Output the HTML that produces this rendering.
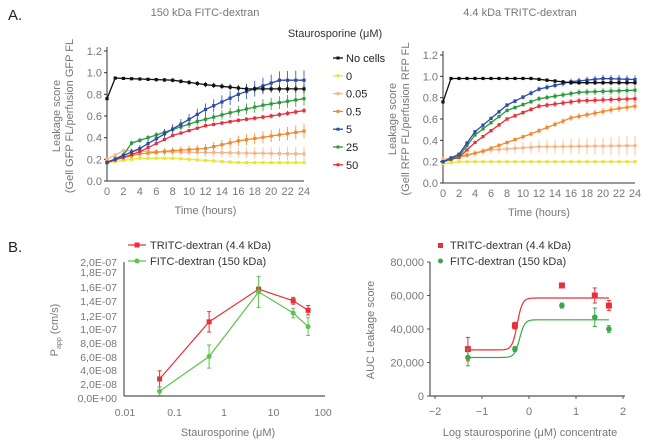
<!DOCTYPE html>
<html><head><meta charset="utf-8"><style>
body{margin:0;background:#fff;width:650px;height:442px;overflow:hidden}
svg{font-family:"Liberation Sans",sans-serif}
</style></head><body>
<svg id="s" width="650" height="442" xmlns="http://www.w3.org/2000/svg">
<text x="8" y="20" font-size="15" fill="#222">A.</text>
<text x="8" y="252" font-size="15" fill="#222">B.</text>
<text x="205" y="16" font-size="11" fill="#777" text-anchor="middle">150 kDa FITC-dextran</text>
<text x="520" y="16" font-size="11" fill="#777" text-anchor="middle">4.4 kDa TRITC-dextran</text>
<text x="335" y="37" font-size="11" fill="#333" text-anchor="middle">Staurosporine (μM)</text>
<g id="g"></g>
</svg>
<script>
const g=document.getElementById('g');let h='';
const C={k:'#111',y:'#e6e63a',lo:'#f2b88a',o:'#f08a2c',b:'#2c4aa8',gr:'#2a9a3e',r:'#e8303a'};
function interp(k,t){for(let i=0;i<k.length-1;i++){if(t>=k[i][0]&&t<=k[i+1][0]){const f=(t-k[i][0])/(k[i+1][0]-k[i][0]);return k[i][1]+f*(k[i+1][1]-k[i][1]);}}return k[k.length-1][1];}
function panelA(x0,x1,y0,y1,series,ylab,ylab2,lx){
 const X=t=>x0+(x1-x0)*t/24,Y=v=>y0-(y0-y1)*v/1.2;
 h+=`<line x1="${x0}" y1="${y1-4}" x2="${x0}" y2="${y0}" stroke="#333"/><line x1="${x0}" y1="${y0}" x2="${x1}" y2="${y0}" stroke="#333"/>`;
 for(let i=0;i<=6;i++){const v=i*0.2,y=Y(v);h+=`<line x1="${x0-3}" y1="${y}" x2="${x0}" y2="${y}" stroke="#333"/><text x="${x0-5}" y="${y+4}" font-size="11" fill="#777" text-anchor="end">${v.toFixed(1)}</text>`;}
 for(let t=0;t<=24;t+=2){h+=`<text x="${X(t)}" y="${y0+14}" font-size="11" fill="#777" text-anchor="middle">${t}</text>`;}
 h+=`<text x="${(x0+x1)/2}" y="${y0+33}" font-size="11" fill="#777" text-anchor="middle">Time (hours)</text>`;
 h+=`<text transform="translate(${lx},${(y0+y1)/2}) rotate(-90)" font-size="11" fill="#777" text-anchor="middle"><tspan x="0" y="0">${ylab}</tspan><tspan x="0" y="13">${ylab2}</tspan></text>`;
 for(const s of series){let p='';for(let t=0;t<=24;t++){const v=interp(s.k,t);p+=(t?'L':'M')+X(t).toFixed(1)+','+Y(v).toFixed(1);
   const e=s.e*(t/24+0.3);const yy=Y(v);h+=`<line x1="${X(t)}" y1="${yy-e*108}" x2="${X(t)}" y2="${yy+e*108}" stroke="${s.c}" stroke-width="0.8"/><rect x="${X(t)-1.6}" y="${yy-1.6}" width="3.2" height="3.2" fill="${s.c}"/>`;}
  h+=`<path d="${p}" fill="none" stroke="${s.c}" stroke-width="1.3"/>`;}
}
panelA(107,304,181,51,[
 {c:C.y,e:0.01,k:[[0,0.17],[4,0.21],[8,0.21],[16,0.17],[24,0.17]]},
 {c:C.lo,e:0.05,k:[[0,0.2],[2,0.28],[6,0.27],[24,0.25]]},
 {c:C.o,e:0.05,k:[[0,0.18],[4,0.25],[8,0.28],[12,0.3],[16,0.37],[24,0.46]]},
 {c:C.r,e:0.02,k:[[0,0.17],[4,0.27],[8,0.42],[12,0.51],[16,0.56],[20,0.6],[24,0.65]]},
 {c:C.gr,e:0.05,k:[[0,0.17],[2,0.24],[3,0.35],[7,0.45],[11,0.55],[15,0.63],[19,0.7],[24,0.76]]},
 {c:C.b,e:0.07,k:[[0,0.17],[4,0.3],[8,0.48],[12,0.66],[16,0.8],[21,0.93],[24,0.93]]},
 {c:C.k,e:0.03,k:[[0,0.76],[1,0.95],[8,0.93],[12,0.89],[17,0.85],[24,0.85]]}
],'Leakage score','(Gell GFP FL/perfusion GFP FL',60);
panelA(443,635,183,55,[
 {c:C.y,e:0.005,k:[[0,0.18],[2,0.2],[24,0.2]]},
 {c:C.lo,e:0.07,k:[[0,0.22],[6,0.31],[12,0.34],[24,0.35]]},
 {c:C.o,e:0.03,k:[[0,0.2],[5,0.3],[11,0.46],[16,0.61],[22,0.7],[24,0.72]]},
 {c:C.r,e:0.03,k:[[0,0.2],[2,0.24],[4,0.38],[8,0.6],[12,0.72],[17,0.77],[24,0.79]]},
 {c:C.gr,e:0.03,k:[[0,0.2],[2,0.25],[4,0.45],[8,0.68],[12,0.79],[17,0.85],[24,0.87]]},
 {c:C.b,e:0.03,k:[[0,0.2],[2,0.27],[4,0.48],[8,0.73],[12,0.88],[16,0.95],[20,0.98],[24,0.97]]},
 {c:C.k,e:0.02,k:[[0,0.76],[1,0.98],[11,0.98],[16,0.94],[24,0.94]]}
],'Leakage score','(Gell RFP FL/perfusion RFP FL',396);
// legend
const L=[['No cells',C.k],['0',C.y],['0.05',C.lo],['0.5',C.o],['5',C.b],['25',C.gr],['50',C.r]];
L.forEach((l,i)=>{const y=58+i*17.8;h+=`<line x1="333" y1="${y}" x2="343" y2="${y}" stroke="${l[1]}" stroke-width="1.3"/><rect x="336.5" y="${y-1.5}" width="3" height="3" fill="${l[1]}"/><text x="346" y="${y+4}" font-size="11" fill="#222">${l[0]}</text>`;});
// B left
{const X=c=>125+49.5*(Math.log10(c)+2);const Y=v=>398-v/2e-8*13.6;
h+=`<line x1="124" y1="262" x2="124" y2="396" stroke="#555" stroke-width="1.2"/><line x1="124" y1="396" x2="325" y2="396" stroke="#555" stroke-width="1.2"/>`;
const yl=[['0,0E+00',398],['2,0E-08',384],['4,0E-08',370],['6,0E-08',357],['8,0E-08',343],['1,0E-07',329],['1,2E-07',316],['1,4E-07',301],['1,6E-07',287],['1,8E-07',272],['2,0E-07',262]];
yl.forEach(a=>h+=`<text x="117" y="${a[1]+4}" font-size="10.5" fill="#777" text-anchor="end">${a[0]}</text>`);
[['0.01',0.01],['0.1',0.1],['1',1],['10',10],['100',100]].forEach(a=>h+=`<text x="${X(a[1])}" y="416" font-size="10.5" fill="#777" text-anchor="middle">${a[0]}</text>`);
h+=`<text x="228" y="436" font-size="11" fill="#777" text-anchor="middle">Staurosporine (μM)</text>`;
h+=`<text transform="translate(58,330) rotate(-90)" font-size="11" fill="#777" text-anchor="middle">P<tspan font-size="7" dy="3">app</tspan><tspan dy="-3"> (cm/s)</tspan></text>`;
const cs=[0.05,0.5,5,25,50];
const sets=[[C.r,[2.8e-8,1.12e-7,1.6e-7,1.43e-7,1.29e-7],[1.2e-8,1.5e-8,0.3e-8,0.5e-8,0.7e-8]],[ '#5cc44a',[1e-8,6.1e-8,1.56e-7,1.25e-7,1.05e-7],[0.6e-8,1.7e-8,2.3e-8,0.7e-8,1.3e-8]]];
sets.forEach(s=>{let p='';cs.forEach((c,i)=>{const x=X(c),y=Y(s[1][i]),e=s[2][i]/2e-8*13.6;p+=(i?'L':'M')+x+','+y;h+=`<line x1="${x}" y1="${y-e}" x2="${x}" y2="${y+e}" stroke="${s[0]}"/><line x1="${x-2}" y1="${y-e}" x2="${x+2}" y2="${y-e}" stroke="${s[0]}"/><line x1="${x-2}" y1="${y+e}" x2="${x+2}" y2="${y+e}" stroke="${s[0]}"/>`;
 h+= s[0]==C.r?`<rect x="${x-2.5}" y="${y-2.5}" width="5" height="5" fill="${s[0]}"/>`:`<circle cx="${x}" cy="${y}" r="2.5" fill="${s[0]}"/>`;});
 h+=`<path d="${p}" fill="none" stroke="${s[0]}" stroke-width="1.2"/>`;});
h+=`<line x1="128" y1="245" x2="146" y2="245" stroke="${C.r}" stroke-width="1.2"/><rect x="134.5" y="242.5" width="5" height="5" fill="${C.r}"/><text x="150" y="249" font-size="11" fill="#333">TRITC-dextran (4.4 kDa)</text>`;
h+=`<line x1="128" y1="261" x2="146" y2="261" stroke="#5cc44a" stroke-width="1.2"/><circle cx="137" cy="261" r="2.5" fill="#5cc44a"/><text x="150" y="265" font-size="11" fill="#333">FITC-dextran (150 kDa)</text>`;}
// B right
{const X=v=>529+47*v,Y=v=>396-v/80000*134;
h+=`<line x1="430" y1="262" x2="430" y2="396" stroke="#555" stroke-width="1.2"/><line x1="430" y1="396" x2="625" y2="396" stroke="#555" stroke-width="1.2"/>`;
[0,20000,40000,60000,80000].forEach(v=>h+=`<line x1="427" y1="${Y(v)}" x2="430" y2="${Y(v)}" stroke="#555"/><text x="424" y="${Y(v)+4}" font-size="11" fill="#777" text-anchor="end">${v?v.toLocaleString('en-US'):'0'}</text>`);
[-2,-1,0,1,2].forEach(v=>h+=`<line x1="${X(v)}" y1="396" x2="${X(v)}" y2="399" stroke="#555"/><text x="${X(v)}" y="415" font-size="11" fill="#777" text-anchor="middle">${v<0?'−'+(-v):v}</text>`);
h+=`<text x="530" y="436" font-size="11" fill="#777" text-anchor="middle">Log staurosporine (μM) concentrate</text>`;
h+=`<text transform="translate(374,330) rotate(-90)" font-size="11" fill="#777" text-anchor="middle">AUC Leakage score</text>`;
const xs=[-1.3,-0.3,0.7,1.4,1.7];
const sets=[[C.r,[28000,42000,66000,60000,54000],[7000,2000,1000,4500,3000],27500,58500,-0.25],['#3aa84a',[23000,28000,54000,47000,40000],[5000,1500,1500,5500,2000],23000,45500,-0.2]];
sets.forEach(s=>{let p='';for(let v=-1.3;v<=1.701;v+=0.02){const y=s[3]+(s[4]-s[3])/(1+Math.pow(10,(s[5]-v)*8));p+=(p?'L':'M')+X(v).toFixed(1)+','+Y(y).toFixed(1);}
 h+=`<path d="${p}" fill="none" stroke="${s[0]}" stroke-width="1.2"/>`;
 xs.forEach((v,i)=>{const x=X(v),y=Y(s[1][i]),e=s[2][i]/80000*134;h+=`<line x1="${x}" y1="${y-e}" x2="${x}" y2="${y+e}" stroke="${s[0]}"/><line x1="${x-2}" y1="${y-e}" x2="${x+2}" y2="${y-e}" stroke="${s[0]}"/><line x1="${x-2}" y1="${y+e}" x2="${x+2}" y2="${y+e}" stroke="${s[0]}"/>`;
 h+= s[0]==C.r?`<rect x="${x-3}" y="${y-3}" width="6" height="6" fill="${s[0]}"/>`:`<circle cx="${x}" cy="${y}" r="2.8" fill="${s[0]}"/>`;});});
h+=`<rect x="438" y="243" width="5" height="5" fill="${C.r}"/><text x="450" y="249" font-size="11" fill="#333">TRITC-dextran (4.4 kDa)</text>`;
h+=`<circle cx="440.5" cy="261" r="2.5" fill="#3aa84a"/><text x="450" y="265" font-size="11" fill="#333">FITC-dextran (150 kDa)</text>`;}
g.innerHTML=h;
</script>
</body></html>
